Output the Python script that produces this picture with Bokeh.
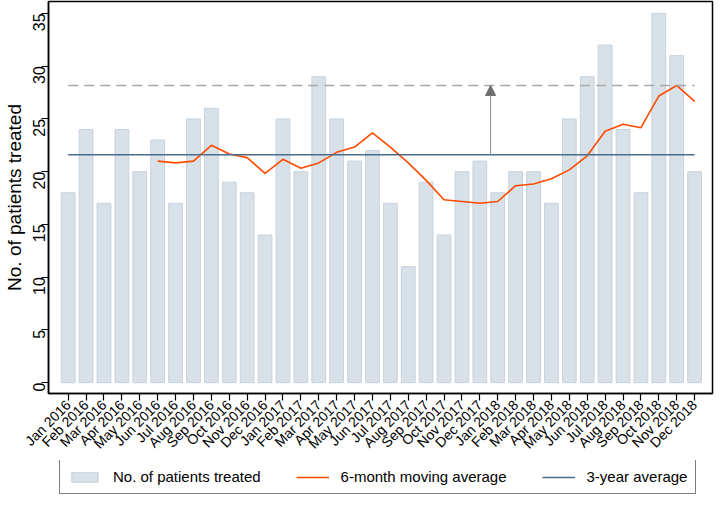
import math
from bokeh.plotting import figure
from bokeh.layouts import column
from bokeh.models import (ColumnDataSource, Range1d, FixedTicker, Legend, LegendItem,
                          Arrow, NormalHead)
from bokeh.embed import file_html
from bokeh.resources import INLINE

# ---- data ----
months = ["Jan 2016", "Feb 2016", "Mar 2016", "Apr 2016", "May 2016", "Jun 2016",
          "Jul 2016", "Aug 2016", "Sep 2016", "Oct 2016", "Nov 2016", "Dec 2016",
          "Jan 2017", "Feb 2017", "Mar 2017", "Apr 2017", "May 2017", "Jun 2017",
          "Jul 2017", "Aug 2017", "Sep 2017", "Oct 2017", "Nov 2017", "Dec 2017",
          "Jan 2018", "Feb 2018", "Mar 2018", "Apr 2018", "May 2018", "Jun 2018",
          "Jul 2018", "Aug 2018", "Sep 2018", "Oct 2018", "Nov 2018", "Dec 2018"]
patients = [18, 24, 17, 24, 20, 23, 17, 25, 26, 19, 18, 14,
            25, 20, 29, 25, 21, 22, 17, 11, 19, 14, 20, 21,
            18, 20, 20, 17, 25, 29, 32, 24, 18, 35, 31, 20]
ma_months = months[5:]
moving_avg = [21.0, 20.83, 21.0, 22.5, 21.67, 21.33, 19.83,
              21.17, 20.33, 20.83, 21.83, 22.33, 23.67, 22.33, 20.83, 19.17, 17.33, 17.17, 17.0,
              17.17, 18.67, 18.83, 19.33, 20.17, 21.5, 23.83, 24.5, 24.17, 27.17, 28.17, 26.67]
three_year_avg = 21.6
ma_peak = 28.17
arrow_x = 23.6
y_ticks = [0, 5, 10, 15, 20, 25, 30, 35]
legend_labels = ["No. of patients treated", "6-month moving average", "3-year average"]

idx = {m: i for i, m in enumerate(months)}
bar_src = ColumnDataSource(dict(x=[idx[m] for m in months], y=patients))
ma_src = ColumnDataSource(dict(x=[idx[m] for m in ma_months], y=moving_avg))
span_x = [0, len(months) - 1]

FONT = "Liberation Sans"
BAR_FILL, BAR_LINE = "#d8e0e8", "#c6d3df"
ORANGE, BLUE = "#ff4a00", "#4d6c8b"

p = figure(width=714, height=460, output_backend="svg", toolbar_location=None,
           x_range=Range1d(-1.1, 36.0), y_range=Range1d(-1.03, 36.13),
           min_border_left=39, min_border_right=2, min_border_top=1, min_border_bottom=66)
p.background_fill_color = "white"
p.border_fill_color = "white"
p.outline_line_color = "black"
p.outline_line_width = 1.5
p.xgrid.visible = False
p.ygrid.visible = False

p.vbar(x="x", top="y", bottom=0, width=0.77, source=bar_src,
       fill_color=BAR_FILL, line_color=BAR_LINE, line_width=1)
p.line(x="x", y="y", source=ma_src, line_color=ORANGE, line_width=1.6)
p.line(x=span_x, y=[three_year_avg] * 2, line_color=BLUE, line_width=1.5)
p.line(x=span_x, y=[ma_peak] * 2, line_color="#a8a8a8", line_width=1.4, line_dash="10 6")

p.add_layout(Arrow(x_start=arrow_x, y_start=three_year_avg, x_end=arrow_x, y_end=ma_peak,
                   line_color="#999999", line_width=1.2,
                   end=NormalHead(size=10, fill_color="#6e6e6e", line_color="#6e6e6e")))

# axes
xa = p.xaxis[0]
xa.ticker = FixedTicker(ticks=list(range(len(months))))
xa.major_label_overrides = {i: m for i, m in enumerate(months)}
xa.major_label_orientation = math.pi / 4
xa.major_label_text_font = FONT
xa.major_label_text_font_size = "14px"
xa.major_label_text_color = "black"
xa.major_tick_out = 7
xa.major_tick_in = 0
xa.minor_tick_out = 0
xa.minor_tick_in = 0
xa.axis_line_color = "black"
xa.axis_line_width = 1.5
xa.major_tick_line_width = 1.2
xa.major_label_standoff = 2

ya = p.yaxis[0]
ya.ticker = FixedTicker(ticks=y_ticks)
ya.major_label_orientation = math.pi / 2
ya.major_label_text_font = FONT
ya.major_label_text_font_size = "16px"
ya.major_label_text_color = "black"
ya.major_tick_out = 7
ya.major_tick_in = 0
ya.minor_tick_out = 0
ya.minor_tick_in = 0
ya.axis_line_color = "black"
ya.axis_line_width = 1.5
ya.major_tick_line_width = 1.2
ya.major_label_standoff = 2
ya.axis_label = "No. of patients treated"
ya.axis_label_text_font = FONT
ya.axis_label_text_font_size = "19px"
ya.axis_label_text_font_style = "normal"
ya.axis_label_text_color = "black"
ya.axis_label_standoff = 0

# legend in its own strip below the chart (its frame is aligned with the chart's frame)
lg = figure(width=714, height=34, output_backend="svg", toolbar_location=None,
            x_range=Range1d(0, 1), y_range=Range1d(0, 1),
            x_axis_location=None, y_axis_location=None,
            min_border=0, min_border_left=0, min_border_right=0,
            min_border_top=0, min_border_bottom=0)
lg.outline_line_color = None
lg.xgrid.visible = False
lg.ygrid.visible = False
# off-screen stand-in glyphs that only give the legend its swatches
off = ColumnDataSource(dict(x=[-10, -9], y=[-10, -10]))
r_bar = lg.vbar(x="x", top="y", bottom=-11, width=0.5, source=off,
                fill_color=BAR_FILL, line_color=BAR_LINE, line_width=1)
r_ma = lg.line(x="x", y="y", source=off, line_color=ORANGE, line_width=1.6)
r_avg = lg.line(x="x", y="y", source=off, line_color=BLUE, line_width=1.6)

legend = Legend(items=[LegendItem(label=legend_labels[0], renderers=[r_bar], index=0),
                       LegendItem(label=legend_labels[1], renderers=[r_ma]),
                       LegendItem(label=legend_labels[2], renderers=[r_avg])],
                orientation="horizontal", location=(11, 0),
                label_text_font=FONT, label_text_font_size="15px",
                label_text_color="black",
                glyph_width=33, glyph_height=12, label_standoff=12, spacing=35,
                padding=8, margin=0,
                border_line_color="black", border_line_width=1.5,
                background_fill_color="white", background_fill_alpha=1)
lg.add_layout(legend, "center")

layout = column(p, lg, spacing=0)
open("out.html", "w").write(file_html(layout, INLINE))
